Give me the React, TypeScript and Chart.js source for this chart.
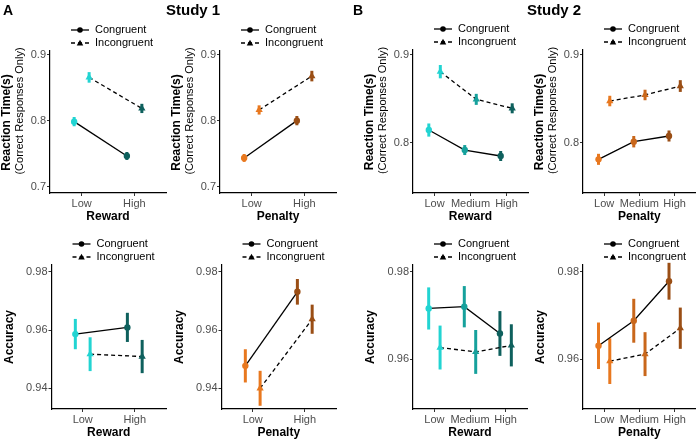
import React, { useEffect, useRef } from 'react';
import { Chart, registerables } from 'chart.js';

Chart.register(...registerables);

const FONT = '"Liberation Sans", Arial, Helvetica, sans-serif';
const W = 700;
const H = 441;

// ---------- categories & labels ----------
const levels2 = ['Low', 'High'];
const levels3 = ['Low', 'Medium', 'High'];
const seriesNames = ['Congruent', 'Incongruent'];
const rtTitle = ['Reaction Time(s)', '(Correct Responses Only)'];
const accTitle = ['Accuracy'];

// ---------- tick values ----------
const rtTicks1 = [0.7, 0.8, 0.9];
const rtTicks2 = [0.8, 0.9];
const accTicks1 = [0.94, 0.96, 0.98];
const accTicks2 = [0.96, 0.98];

// ---------- colours ----------
const rewardColors2 = ['#22D4D2', '#0E605D'];
const rewardColors3 = ['#22D4D2', '#16A19C', '#0E605D'];
const penaltyColors2 = ['#E8781F', '#9A4E15'];
const penaltyColors3 = ['#E8781F', '#C9671B', '#9A4E15'];

// ---------- Study 1 reaction time ----------
const s1RtRewardCong = [0.799, 0.747];
const s1RtRewardCongErr = [0.007, 0.006];
const s1RtRewardIncong = [0.866, 0.819];
const s1RtRewardIncongErr = [0.008, 0.007];

const s1RtPenaltyCong = [0.744, 0.8005];
const s1RtPenaltyCongErr = [0.006, 0.007];
const s1RtPenaltyIncong = [0.8167, 0.868];
const s1RtPenaltyIncongErr = [0.007, 0.008];

// ---------- Study 2 reaction time ----------
const s2RtRewardCong = [0.8144, 0.7916, 0.7848];
const s2RtRewardCongErr = [0.0075, 0.0057, 0.0057];
const s2RtRewardIncong = [0.881, 0.8494, 0.8392];
const s2RtRewardIncongErr = [0.0076, 0.0063, 0.0057];

const s2RtPenaltyCong = [0.781, 0.8011, 0.8076];
const s2RtPenaltyCongErr = [0.0063, 0.0065, 0.0063];
const s2RtPenaltyIncong = [0.8475, 0.8544, 0.8646];
const s2RtPenaltyIncongErr = [0.006, 0.006, 0.0067];

// ---------- Study 1 accuracy ----------
const s1AccRewardCong = [0.9586, 0.9609];
const s1AccRewardCongErr = [0.0052, 0.005];
const s1AccRewardIncong = [0.9517, 0.9509];
const s1AccRewardIncongErr = [0.0058, 0.0057];

const s1AccPenaltyCong = [0.9477, 0.9731];
const s1AccPenaltyCongErr = [0.0057, 0.0044];
const s1AccPenaltyIncong = [0.94, 0.9637];
const s1AccPenaltyIncongErr = [0.006, 0.005];

// ---------- Study 2 accuracy ----------
const s2AccRewardCong = [0.9716, 0.972, 0.9659];
const s2AccRewardCongErr = [0.0048, 0.0047, 0.0051];
const s2AccRewardIncong = [0.9627, 0.9617, 0.9632];
const s2AccRewardIncongErr = [0.005, 0.005, 0.0048];

const s2AccPenaltyCong = [0.9631, 0.9688, 0.9778];
const s2AccPenaltyCongErr = [0.0053, 0.005, 0.0042];
const s2AccPenaltyIncong = [0.9596, 0.9612, 0.9671];
const s2AccPenaltyIncongErr = [0.0052, 0.005, 0.0047];

type Panel = {
  l: number; r: number; t: number; b: number;
  yMin: number; yMax: number; yTicks: number[];
  levels: string[]; xTitle: string; yTitle: string[];
  cong: number[]; congErr: number[]; incong: number[]; incongErr: number[];
  colors: string[]; dodge: number;
  header?: { letter: string; study: string; letterX: number; studyX: number };
};

const panels: Panel[] = [
  { l: 50, r: 166, t: 51, b: 193, yMin: 0.6909, yMax: 0.906, yTicks: rtTicks1, levels: levels2, xTitle: 'Reward', yTitle: rtTitle,
    cong: s1RtRewardCong, congErr: s1RtRewardCongErr, incong: s1RtRewardIncong, incongErr: s1RtRewardIncongErr, colors: rewardColors2, dodge: 0.142,
    header: { letter: 'A', study: 'Study 1', letterX: 3, studyX: 166 } },
  { l: 220, r: 336, t: 51, b: 193, yMin: 0.6909, yMax: 0.906, yTicks: rtTicks1, levels: levels2, xTitle: 'Penalty', yTitle: rtTitle,
    cong: s1RtPenaltyCong, congErr: s1RtPenaltyCongErr, incong: s1RtPenaltyIncong, incongErr: s1RtPenaltyIncongErr, colors: penaltyColors2, dodge: 0.142 },
  { l: 413, r: 528, t: 50, b: 193, yMin: 0.7426, yMax: 0.9057, yTicks: rtTicks2, levels: levels3, xTitle: 'Reward', yTitle: rtTitle,
    cong: s2RtRewardCong, congErr: s2RtRewardCongErr, incong: s2RtRewardIncong, incongErr: s2RtRewardIncongErr, colors: rewardColors3, dodge: 0.16,
    header: { letter: 'B', study: 'Study 2', letterX: 353, studyX: 527 } },
  { l: 583, r: 698, t: 50, b: 193, yMin: 0.7426, yMax: 0.9057, yTicks: rtTicks2, levels: levels3, xTitle: 'Penalty', yTitle: rtTitle,
    cong: s2RtPenaltyCong, congErr: s2RtPenaltyCongErr, incong: s2RtPenaltyIncong, incongErr: s2RtPenaltyIncongErr, colors: penaltyColors3, dodge: 0.16 },
  { l: 51.5, r: 166, t: 265, b: 409, yMin: 0.9329, yMax: 0.9823, yTicks: accTicks1, levels: levels2, xTitle: 'Reward', yTitle: accTitle,
    cong: s1AccRewardCong, congErr: s1AccRewardCongErr, incong: s1AccRewardIncong, incongErr: s1AccRewardIncongErr, colors: rewardColors2, dodge: 0.142 },
  { l: 221.5, r: 336, t: 265, b: 409, yMin: 0.9329, yMax: 0.9823, yTicks: accTicks1, levels: levels2, xTitle: 'Penalty', yTitle: accTitle,
    cong: s1AccPenaltyCong, congErr: s1AccPenaltyCongErr, incong: s1AccPenaltyIncong, incongErr: s1AccPenaltyIncongErr, colors: penaltyColors2, dodge: 0.142 },
  { l: 413, r: 527, t: 265, b: 409, yMin: 0.9487, yMax: 0.9815, yTicks: accTicks2, levels: levels3, xTitle: 'Reward', yTitle: accTitle,
    cong: s2AccRewardCong, congErr: s2AccRewardCongErr, incong: s2AccRewardIncong, incongErr: s2AccRewardIncongErr, colors: rewardColors3, dodge: 0.16 },
  { l: 583, r: 698, t: 265, b: 409, yMin: 0.9487, yMax: 0.9815, yTicks: accTicks2, levels: levels3, xTitle: 'Penalty', yTitle: accTitle,
    cong: s2AccPenaltyCong, congErr: s2AccPenaltyCongErr, incong: s2AccPenaltyIncong, incongErr: s2AccPenaltyIncongErr, colors: penaltyColors3, dodge: 0.16 },
];

const Y_W = 40;
const X_H = 30;

function drawTriangle(ctx: CanvasRenderingContext2D, x: number, y: number, r: number) {
  let rad = 0;
  const step = (Math.PI * 2) / 3;
  ctx.beginPath();
  ctx.moveTo(x + Math.sin(rad) * r, y - Math.cos(rad) * r);
  rad += step;
  ctx.lineTo(x + Math.sin(rad) * r, y - Math.cos(rad) * r);
  rad += step;
  ctx.lineTo(x + Math.sin(rad) * r, y - Math.cos(rad) * r);
  ctx.closePath();
  ctx.fill();
}

function makeDecor(p: Panel) {
  return {
    id: 'decor',
    beforeDatasetsDraw(chart: any) {
      const ctx: CanvasRenderingContext2D = chart.ctx;
      const xs = chart.scales.x;
      const ys = chart.scales.y;
      const series = [
        { m: p.cong, e: p.congErr, off: -p.dodge },
        { m: p.incong, e: p.incongErr, off: p.dodge },
      ];
      ctx.save();
      ctx.lineWidth = 3;
      ctx.lineCap = 'butt';
      series.forEach((s) => {
        s.m.forEach((v, i) => {
          const x = xs.getPixelForValue(i + 1 + s.off);
          const y1 = ys.getPixelForValue(v - s.e[i]);
          const y2 = ys.getPixelForValue(v + s.e[i]);
          ctx.strokeStyle = p.colors[i];
          ctx.beginPath();
          ctx.moveTo(x, y1);
          ctx.lineTo(x, y2);
          ctx.stroke();
        });
      });
      ctx.restore();
    },
    afterDraw(chart: any) {
      const ctx: CanvasRenderingContext2D = chart.ctx;
      const area = chart.chartArea;
      ctx.save();
      // legend
      const lx = area.left + 21;
      const rows = [area.top - 21, area.top - 8];
      rows.forEach((ry, k) => {
        ctx.strokeStyle = '#000';
        ctx.fillStyle = '#000';
        ctx.lineWidth = 1.3;
        ctx.setLineDash(k === 0 ? [] : [4, 3]);
        ctx.beginPath();
        ctx.moveTo(lx, ry);
        ctx.lineTo(lx + 18, ry);
        ctx.stroke();
        ctx.setLineDash([]);
        if (k === 0) {
          ctx.beginPath();
          ctx.arc(lx + 9, ry, 2.8, 0, Math.PI * 2);
          ctx.fill();
        } else {
          drawTriangle(ctx, lx + 9, ry + 0.5, 3.8);
        }
        ctx.font = `11px ${FONT}`;
        ctx.textAlign = 'left';
        ctx.textBaseline = 'middle';
        ctx.fillText(seriesNames[k], lx + 24, ry);
      });
      // x title
      ctx.fillStyle = '#000';
      ctx.font = `bold 12px ${FONT}`;
      ctx.textAlign = 'center';
      ctx.textBaseline = 'middle';
      ctx.fillText(p.xTitle, (area.left + area.right) / 2, area.bottom + 24);
      // y title
      const mid = (area.top + area.bottom) / 2;
      if (p.yTitle.length === 1) {
        ctx.save();
        ctx.translate(area.left - 42, mid);
        ctx.rotate(-Math.PI / 2);
        ctx.fillText(p.yTitle[0], 0, 0);
        ctx.restore();
      } else {
        ctx.save();
        ctx.translate(area.left - 43, mid + 0.5);
        ctx.rotate(-Math.PI / 2);
        ctx.font = `bold 12px ${FONT}`;
        ctx.fillText(p.yTitle[0], 0, 0);
        ctx.restore();
        ctx.save();
        ctx.translate(area.left - 30.5, mid - 11);
        ctx.rotate(-Math.PI / 2);
        ctx.font = `11px ${FONT}`;
        ctx.fillText(p.yTitle[1], 0, 0);
        ctx.restore();
      }
      // header
      if (p.header) {
        ctx.font = `bold 14px ${FONT}`;
        ctx.textAlign = 'left';
        ctx.textBaseline = 'alphabetic';
        ctx.fillText(p.header.letter, p.header.letterX, 14.5);
        ctx.font = `bold 15px ${FONT}`;
        ctx.fillText(p.header.study, p.header.studyX, 15);
      }
      ctx.restore();
    },
  };
}

function PanelChart({ p }: { p: Panel }) {
  const ref = useRef<HTMLCanvasElement | null>(null);
  useEffect(() => {
    if (!ref.current) return;
    const n = p.levels.length;
    const mk = (vals: number[], off: number) => vals.map((v, i) => ({ x: i + 1 + off, y: v }));
    const axisCommon = {
      grid: { display: true, drawOnChartArea: false, drawTicks: true, tickLength: 3, color: '#333333', lineWidth: 1 },
      border: { display: true, color: '#000000', width: 1.2 },
    };
    const chart = new Chart(ref.current, {
      type: 'line',
      data: {
        datasets: [
          {
            label: seriesNames[0],
            data: mk(p.cong, -p.dodge),
            borderColor: '#000',
            borderWidth: 1.3,
            pointStyle: 'circle',
            pointRadius: 3.2,
            pointBorderWidth: 0,
            pointBackgroundColor: p.colors,
            pointBorderColor: p.colors,
            tension: 0,
          },
          {
            label: seriesNames[1],
            data: mk(p.incong, p.dodge),
            borderColor: '#000',
            borderWidth: 1.3,
            borderDash: [4, 3],
            pointStyle: 'triangle',
            pointRadius: 4.2,
            pointBorderWidth: 0,
            pointBackgroundColor: p.colors,
            pointBorderColor: p.colors,
            tension: 0,
          },
        ],
      },
      options: {
        animation: false,
        responsive: false,
        events: [],
        layout: { padding: { left: p.l - Y_W, right: W - p.r, top: p.t, bottom: H - p.b - X_H } },
        plugins: { legend: { display: false }, tooltip: { enabled: false }, title: { display: false } },
        scales: {
          x: {
            type: 'linear',
            min: 0.4,
            max: n + 0.6,
            afterBuildTicks: (s: any) => { s.ticks = p.levels.map((_, i) => ({ value: i + 1 })); },
            afterFit: (s: any) => { s.height = X_H; },
            ticks: {
              autoSkip: false,
              maxRotation: 0,
              padding: 1,
              color: '#4D4D4D',
              font: { family: FONT, size: 11 },
              callback: (_v: any, i: number) => p.levels[i],
            },
            ...axisCommon,
          },
          y: {
            type: 'linear',
            min: p.yMin,
            max: p.yMax,
            afterBuildTicks: (s: any) => { s.ticks = p.yTicks.map((v) => ({ value: v })); },
            afterFit: (s: any) => { s.width = Y_W; },
            ticks: {
              autoSkip: false,
              padding: 1,
              color: '#4D4D4D',
              font: { family: FONT, size: 11 },
              callback: (v: any) => String(Number(v)),
            },
            ...axisCommon,
          },
        },
      } as any,
      plugins: [makeDecor(p)],
    });
    return () => chart.destroy();
  }, [p]);
  return (
    <canvas
      ref={ref}
      width={W}
      height={H}
      style={{ position: 'absolute', left: 0, top: 0, width: W, height: H }}
    />
  );
}

export default function App() {
  return (
    <div style={{ position: 'absolute', left: 0, top: 0, width: W, height: H, background: '#fff', overflow: 'hidden' }}>
      {panels.map((p, i) => (
        <PanelChart key={i} p={p} />
      ))}
    </div>
  );
}
